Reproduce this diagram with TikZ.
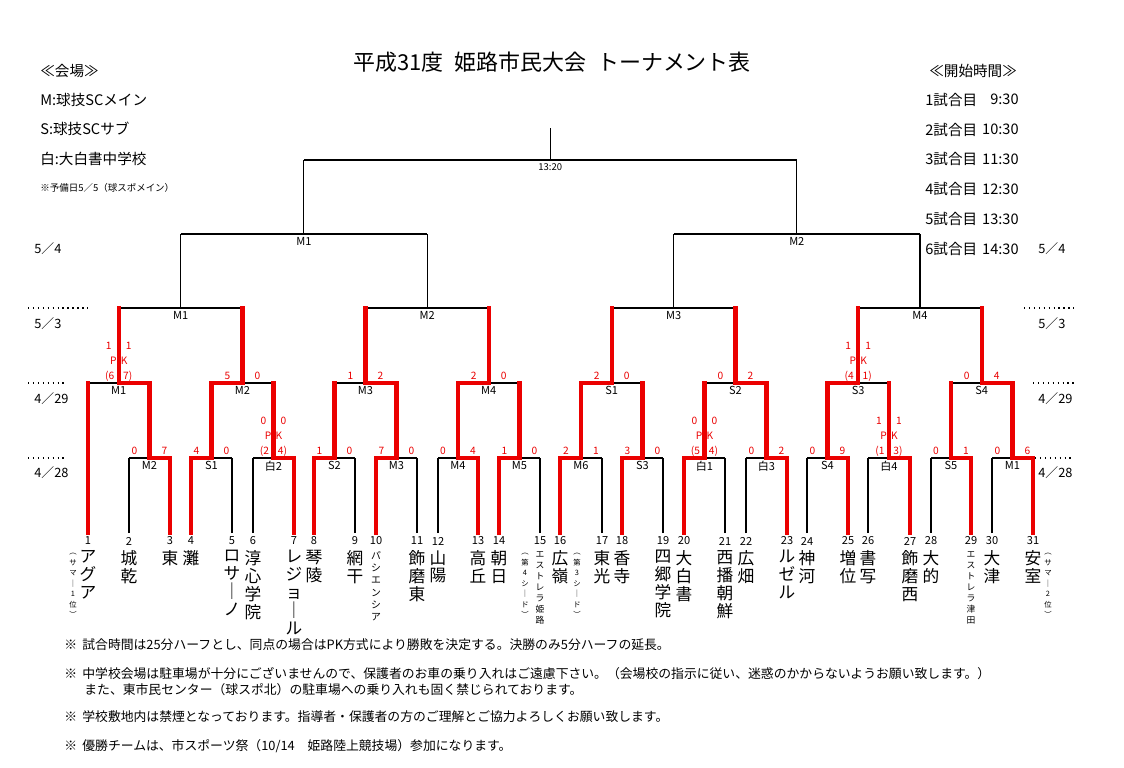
\documentclass[tikz,border=0pt]{standalone}
\usepackage{fontspec}
\setmainfont{Noto Sans CJK JP}
\definecolor{winred}{RGB}{235,0,0}
\newcommand{\fsz}[1]{\fontsize{#1}{#1}\selectfont}
% PK result: name, centre x, level y, goals left/right, kicks left/right
\newcommand{\pk}[7]{%
  \node[score node] (#1ga) at (#2-10,#3-37) {#4};
  \node[score node] (#1gb) at (#2+10,#3-37) {#5};
  \node[score node] (#1p) at (#2-5.5,#3-22) {P};
  \node[score node] (#1k) at (#2+5.5,#3-22) {K};
  \node[score node] (#1ka) at (#2-9,#3-7) {(#6};
  \node[score node] (#1kb) at (#2+9,#3-7) {#7)};}

\begin{document}
\begin{tikzpicture}[x=0.02cm,y=-0.02cm,
  bracket/.style={black,line width=0.6pt},
  win line/.style={winred,line width=2.4pt,line cap=rect,line join=miter},
  match node/.style={font=\fsz{6.3},inner sep=0,anchor=north},
  score node/.style={text=winred,font=\fsz{5.8},inner sep=0},
  num node/.style={font=\fsz{6.3},inner sep=0},
  team node/.style={font=\fontsize{9.5}{10.2}\selectfont,align=center,inner sep=0,anchor=north},
  small node/.style={font=\fontsize{5.6}{7}\selectfont,align=center,inner sep=0,anchor=north},
  note node/.style={font=\fontsize{4.2}{6}\selectfont,align=center,inner sep=0,anchor=north},
  head node/.style={font=\fsz{8.3},inner sep=0,anchor=west},
  foot node/.style={font=\fsz{7.3},inner sep=0,anchor=west},
  day node/.style={font=\fsz{7.3},inner sep=0,anchor=west}]

  \useasboundingbox[fill=white] (0,0) rectangle (1124,767);

  % header
  \node[font=\fsz{12.5},inner sep=0] (title) at (552,62) {平成31度\hspace{0.5em}姫路市民大会\hspace{0.5em}トーナメント表};
  \node[head node] (venue) at (40,71) {≪会場≫};
  \node[head node] (vM) at (40,100) {M:球技SCメイン};
  \node[head node] (vS) at (40,129) {S:球技SCサブ};
  \node[head node] (vW) at (40,159) {白:大白書中学校};
  \node[head node,font=\fsz{5.4}] (spare) at (40,188) {※予備日5／5（球スポメイン）};
  \node[head node] (times) at (929,71) {≪開始時間≫};
  \foreach \t/\h [count=\i] in {9:30,10:30,11:30,12:30,13:30,14:30}{
    \node[head node] (g\i) at (925,70+29.8*\i) {\i 試合目};
    \node[head node,anchor=east] (h\i) at (1019,70+29.8*\i) {\t};
  }

  % days
  \foreach \d/\y [count=\i] in {5／4/249,5／3/324,4／29/399,4／28/473}{
    \node[day node] (dl\i) at (34,\y) {\d};
    \node[day node] (dr\i) at (1038,\y) {\d};
  }
  \draw[dotted,line width=0.8pt] (28,308) -- (90,308) (28,383) -- (64,383) (28,458) -- (64,458)
    (1024,308) -- (1074,308) (1033,383) -- (1074,383) (1035,458) -- (1074,458);

  % teams
  \foreach \x [count=\n] in {88,129,170,191,232,253,294,314,355,376,417,438,478,499,540,
      560,602,622,663,684,725,746,787,807,848,868,910,931,971,992,1033}{
    \coordinate (t\n) at (\x,533);
    \node[num node] (n\n) at (\x,541) {\n};
    \draw[bracket] (t\n) -- (\x,458);
  }
  \draw[bracket] (88,458) -- (88,383);

  % 4/28
  \foreach \a/\b/\m [count=\i] in {129/170/M2,191/232/S1,253/294/白2,314/355/S2,376/417/M3,
      438/478/M4,499/540/M5,560/602/M6,622/663/S3,684/725/白1,746/787/白3,807/848/S4,
      868/910/白4,931/971/S5,992/1033/M1}{
    \pgfmathsetmacro\c{(\a+\b)/2}
    \draw[bracket] (\a,458) -- (\b,458) (\c,458) -- (\c,383);
    \node[match node] (ra\i) at (\c,461) {\m};
  }
  % 4/29
  \foreach \a/\b/\m [count=\i] in {88/149.5/M1,211.5/273.5/M2,334.5/396.5/M3,458/519.5/M4,
      581/642.5/S1,704.5/766.5/S2,827.5/889/S3,951/1012.5/S4}{
    \pgfmathsetmacro\c{(\a+\b)/2}
    \draw[bracket] (\a,383) -- (\b,383) (\c,383) -- (\c,308);
    \node[match node] (rb\i) at (\c,386) {\m};
  }
  % 5/3
  \foreach \a/\b/\m [count=\i] in {118.75/242.5/M1,365.5/488.75/M2,611.75/735.5/M3,858.25/981.75/M4}{
    \pgfmathsetmacro\c{(\a+\b)/2}
    \draw[bracket] (\a,308) -- (\b,308) (\c,308) -- (\c,234);
    \node[match node] (rc\i) at (\c,311) {\m};
  }
  % 5/4
  \foreach \a/\b/\m [count=\i] in {180.6/427.1/M1,673.6/920/M2}{
    \pgfmathsetmacro\c{(\a+\b)/2}
    \draw[bracket] (\a,234) -- (\b,234) (\c,234) -- (\c,160);
    \node[match node] (rd\i) at (\c,237) {\m};
  }
  % final
  \draw[bracket] (303.9,160) -- (796.8,160) (550.3,160) -- (550.3,128);
  \node[match node,font=\fsz{5.4}] (final) at (550.3,163) {13:20};

  % winners
  \foreach \x/\c in {170/149.5,191/211.5,294/273.5,314/334.5,376/396.5,478/458,499/519.5,
      560/581,622/642.5,684/704.5,787/766.5,848/827.5,910/889,971/951,1033/1012.5}
    \draw[win line] (\x,533) -- (\x,458) -- (\c,458) -- (\c,383);
  \draw[win line] (t1) -- (88,383);
  \foreach \x/\c in {149.5/118.75,211.5/242.5,396.5/365.5,458/488.75,581/611.75,
      766.5/735.5,827.5/858.25,1012.5/981.75}
    \draw[win line] (\x,383) -- (\c,383) -- (\c,308);

  % scores
  \foreach \c/\l/\r [count=\i] in {149.5/0/7,211.5/4/0,334.5/1/0,396.5/7/0,458/0/4,519.5/1/0,
      581/2/1,642.5/3/0,766.5/0/2,827.5/0/9,951/0/1,1012.5/0/6}{
    \node[score node] (sa\i) at (\c-15,451) {\l};
    \node[score node] (sb\i) at (\c+15,451) {\r};
  }
  \foreach \c/\l/\r [count=\i] in {242.5/5/0,365.5/1/2,488.75/2/0,611.75/2/0,735.5/0/2,981.75/0/4}{
    \node[score node] (sc\i) at (\c-15,376) {\l};
    \node[score node] (sd\i) at (\c+15,376) {\r};
  }
  \pk{pka}{273.5}{458}{0}{0}{2}{4}
  \pk{pkb}{704.5}{458}{0}{0}{5}{4}
  \pk{pkc}{889}{458}{1}{1}{1}{3}
  \pk{pkd}{118.75}{383}{1}{1}{6}{7}
  \pk{pke}{858.25}{383}{1}{1}{4}{1}

  % team names
  \node[team node] (m1) at (88,550) {ア\\グ\\ア};
  \node[note node] (x1) at (73,553) {︵\\サ\\マ\\｜\\1\\位\\︶};
  \node[team node] (m2) at (129,550) {城\\乾};
  \node[team node] (m3) at (170,550) {東};
  \node[team node] (m4) at (191,550) {灘};
  \node[team node] (m5) at (232,550) {ロ\\サ\\｜\\ノ};
  \node[team node] (m6) at (253,550) {淳\\心\\学\\院};
  \node[team node] (m7) at (294,550) {レ\\ジ\\ョ\\｜\\ル};
  \node[team node] (m8) at (314,550) {琴\\陵};
  \node[team node] (m9) at (355,550) {網\\干};
  \node[small node] (m10) at (376,551) {パ\\シ\\エ\\ン\\シ\\ア};
  \node[team node] (m11) at (417,550) {飾\\磨\\東};
  \node[team node] (m12) at (438,550) {山\\陽};
  \node[team node] (m13) at (478,550) {高\\丘};
  \node[team node] (m14) at (499,550) {朝\\日};
  \node[small node,font=\fontsize{5}{6.3}\selectfont] (m15) at (540,551) {エ\\ス\\ト\\レ\\ラ\\姫\\路};
  \node[note node] (x15) at (525,553) {︵\\第\\4\\シ\\｜\\ド\\︶};
  \node[team node] (m16) at (560,550) {広\\嶺};
  \node[note node] (x16) at (577,553) {︵\\第\\3\\シ\\｜\\ド\\︶};
  \node[team node] (m17) at (602,550) {東\\光};
  \node[team node] (m18) at (622,550) {香\\寺};
  \node[team node] (m19) at (663,550) {四\\郷\\学\\院};
  \node[team node] (m20) at (684,550) {大\\白\\書};
  \node[team node] (m21) at (725,550) {西\\播\\朝\\鮮};
  \node[team node] (m22) at (746,550) {広\\畑};
  \node[team node] (m23) at (787,550) {ル\\ゼ\\ル};
  \node[team node] (m24) at (807,550) {神\\河};
  \node[team node] (m25) at (848,550) {増\\位};
  \node[team node] (m26) at (868,550) {書\\写};
  \node[team node] (m27) at (910,550) {飾\\磨\\西};
  \node[team node] (m28) at (931,550) {大\\的};
  \node[small node,font=\fontsize{5}{6.3}\selectfont] (m29) at (971,551) {エ\\ス\\ト\\レ\\ラ\\津\\田};
  \node[team node] (m30) at (992,550) {大\\津};
  \node[team node] (m31) at (1033,550) {安\\室};
  \node[note node] (x31) at (1048,553) {︵\\サ\\マ\\｜\\2\\位\\︶};

  % notes
  \foreach \y [count=\i] in {645,674,717,746}
    \node[foot node] (k\i) at (64,\y) {※};
  \node[foot node] (f1) at (82,645) {試合時間は25分ハーフとし、同点の場合はPK方式により勝敗を決定する。決勝のみ5分ハーフの延長。};
  \node[foot node] (f2) at (82,674) {中学校会場は駐車場が十分にございませんので、保護者のお車の乗り入れはご遠慮下さい。（会場校の指示に従い、迷惑のかからないようお願い致します。）};
  \node[foot node] (f3) at (84,690) {また、東市民センター（球スポ北）の駐車場への乗り入れも固く禁じられております。};
  \node[foot node] (f4) at (82,717) {学校敷地内は禁煙となっております。指導者・保護者の方のご理解とご協力よろしくお願い致します。};
  \node[foot node] (f5) at (82,746) {優勝チームは、市スポーツ祭（10/14　姫路陸上競技場）参加になります。};
\end{tikzpicture}
\end{document}
